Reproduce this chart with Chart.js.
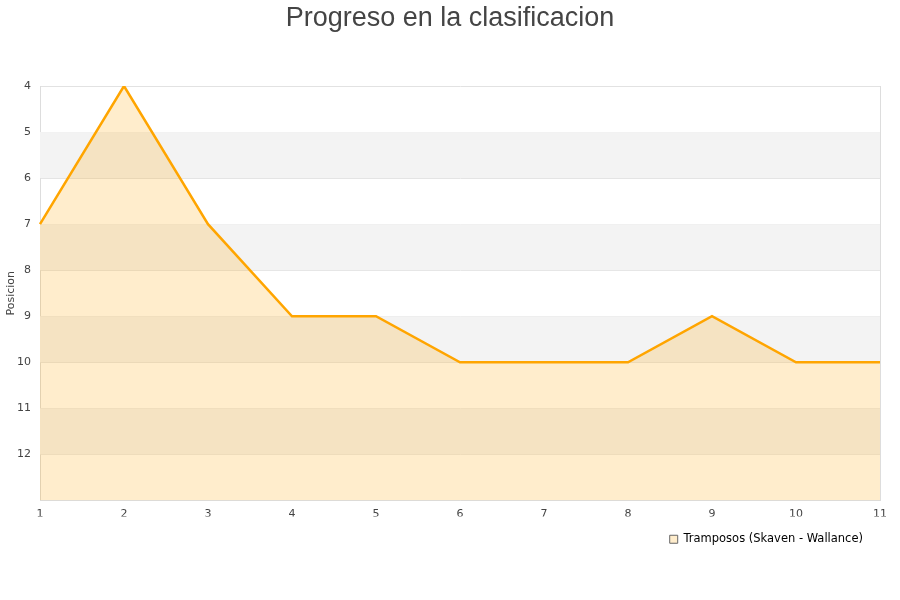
<!DOCTYPE html>
<html>
<head>
<meta charset="utf-8">
<script src="https://cdn.jsdelivr.net/npm/chart.js@4/dist/chart.umd.min.js"></script>
<style>
  html, body { margin: 0; padding: 0; background: #fff; }
  #wrap { width: 900px; height: 600px; }
</style>
</head>
<body>
<div id="wrap"><canvas id="chart" width="900" height="600"></canvas></div>
<script>
/* global Chart */

const jornadas = ['1', '2', '3', '4', '5', '6', '7', '8', '9', '10', '11'];
const posiciones = [7, 4, 7, 9, 9, 10, 10, 10, 9, 10, 10];
const equipo = 'Tramposos (Skaven - Wallance)';
const titulo = 'Progreso en la clasificacion';
const bandasGrises = [[5, 6], [7, 8], [9, 10], [11, 12]];

// grey stripes behind the area, placed through the y scale
const bandPlugin = {
  id: 'bands',
  beforeDatasetsDraw(chart) {
    const {ctx, chartArea} = chart;
    const y = chart.scales.y;
    ctx.save();
    ctx.fillStyle = '#f3f3f3';
    bandasGrises.forEach(([a, b]) => {
      const top = y.getPixelForValue(a);
      const bottom = y.getPixelForValue(b);
      ctx.fillRect(chartArea.left, top, chartArea.right - chartArea.left, bottom - top);
    });
    ctx.restore();
  }
};

const tickFont = {family: 'DejaVu Sans', size: 11};

new Chart(document.getElementById('chart').getContext('2d'), {
  type: 'line',
  data: {
    labels: jornadas,
    datasets: [{
      label: equipo,
      data: posiciones,
      borderColor: '#ffa500',
      backgroundColor: 'rgba(255,165,0,0.2)',
      borderWidth: 2.5,
      pointRadius: 0,
      tension: 0,
      fill: {value: 13}
    }]
  },
  options: {
    responsive: false,
    animation: false,
    layout: {padding: {left: 0, right: 0, top: 2, bottom: 45}},
    plugins: {
      title: {
        display: true,
        text: titulo,
        color: '#444',
        font: {family: 'Liberation Sans', size: 27, weight: 'normal'},
        padding: {top: 0, bottom: 51.6}
      },
      legend: {
        position: 'bottom',
        align: 'end',
        fullSize: false,
        labels: {
          color: '#222',
          font: {family: 'DejaVu Sans', size: 11.5},
          boxWidth: 8,
          boxHeight: 8,
          padding: 17,
          generateLabels(chart) {
            return chart.data.datasets.map((ds, i) => ({
              text: ds.label,
              fillStyle: ds.backgroundColor,
              strokeStyle: '#666',
              lineWidth: 1,
              datasetIndex: i
            }));
          }
        }
      },
      tooltip: {enabled: false}
    },
    scales: {
      x: {
        offset: false,
        afterFit: s => { s.height = 16; },
        grid: {
          color: ctx => (ctx.index === jornadas.length - 1 ? '#dddddd' : 'rgba(0,0,0,0)'),
          drawTicks: false
        },
        border: {color: '#dddddd'},
        ticks: {color: '#444', font: tickFont, padding: 7, maxRotation: 0}
      },
      y: {
        reverse: true,
        min: 4,
        max: 13,
        afterFit: s => { s.width = 40; },
        grid: {color: '#e2e2e2', drawTicks: false},
        border: {color: '#dddddd'},
        ticks: {
          stepSize: 1,
          color: '#444',
          font: tickFont,
          padding: 9,
          callback: v => (v === 13 ? '' : v)
        },
        title: {
          display: true,
          text: 'Posicion',
          color: '#444',
          font: {family: 'DejaVu Sans', size: 11},
          padding: {top: 4.4, bottom: 0}
        }
      },
      // empty right-hand axis that only reserves the margin right of the plot
      yr: {
        type: 'linear',
        position: 'right',
        afterFit: s => { s.width = 20; },
        grid: {display: false},
        border: {display: false},
        ticks: {display: false}
      }
    }
  },
  plugins: [bandPlugin]
});
</script>
</body>
</html>
